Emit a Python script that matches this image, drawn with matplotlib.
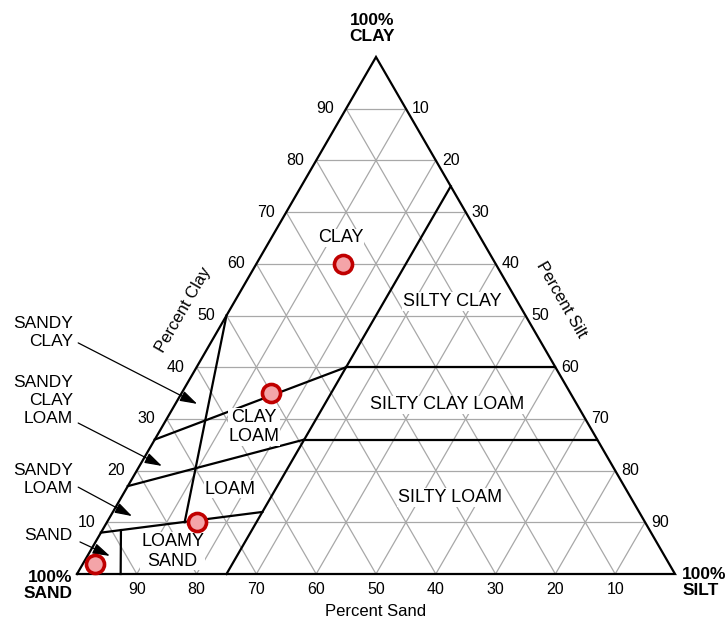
import numpy as np
import matplotlib.pyplot as plt

plt.rcParams['font.family'] = ['Liberation Sans', 'DejaVu Sans']

# class boundaries, each segment given as (clay %, silt %) end points
silt_25 = [(0, 25), (75, 25)]
clay_40 = [(40, 25), (40, 60)]
clay_26 = [(26, 25), (26, 74)]
sandy_clay_edge = [(26, 0), (40, 25)]
sandy_clay_loam_edge = [(17, 0), (26, 25)]
loamy_sand_edge = [(8, 0), (12, 25)]
loam_edge = [(50, 0), (10, 13)]
sand_edge = [(8.5, 3.1), (0, 7.3)]
boundaries = [silt_25, clay_40, clay_26, sandy_clay_edge,
              sandy_clay_loam_edge, loamy_sand_edge, loam_edge, sand_edge]

# sample points
sample_clay = [60, 35, 10, 2]
sample_silt = [14.5, 15, 15, 2]

ticks = [10, 20, 30, 40, 50, 60, 70, 80, 90]

# class names and where they sit (x along base, clay %)
class_names = ['CLAY', 'SILTY CLAY', 'SILTY CLAY LOAM', 'SILTY LOAM',
               'CLAY\nLOAM', 'LOAM', 'LOAMY\nSAND']
class_pos = [(44.1, 65.0), (62.7, 52.7), (61.9, 32.7), (62.4, 14.8),
             (29.6, 28.4), (25.6, 16.4), (16.0, 4.4)]

# side labels with arrows: text position, arrow start, arrow tip
side_names = ['SANDY\nCLAY', 'SANDY\nCLAY\nLOAM', 'SANDY\nLOAM', 'SAND']
side_text = [(-0.7, 46.8), (-0.7, 33.6), (-0.7, 18.3), (-0.7, 7.5)]
side_start = [(0.2, 44.7), (0.2, 29.2), (0.2, 16.8), (0.5, 6.2)]
side_tip = [(20.1, 32.9), (14.2, 20.9), (9.2, 11.2), (5.5, 3.5)]


def xy(clay, silt):
    return silt + clay / 2.0, clay


fig = plt.figure(figsize=(7.27, 6.22), dpi=100)
ax = fig.add_axes([0, 0, 1, 1])
ax.set_xlim(-77 / 5.98, 650 / 5.98)
ax.set_ylim(-48 / 5.17, 574 / 5.17)
ax.axis('off')

grid = dict(color='#a8a8a8', lw=0.9, zorder=1)
for k in ticks:
    # constant clay
    ax.plot([k / 2, 100 - k / 2], [k, k], **grid)
    # constant silt
    x0, y0 = xy(0, k)
    x1, y1 = xy(100 - k, k)
    ax.plot([x0, x1], [y0, y1], **grid)
    # constant sand
    x0, y0 = xy(0, 100 - k)
    x1, y1 = xy(100 - k, 0)
    ax.plot([x0, x1], [y0, y1], **grid)

# outer triangle
ax.plot([0, 100, 50, 0], [0, 0, 100, 0], color='black', lw=1.6,
        solid_joinstyle='miter', zorder=3)

for seg in boundaries:
    (c0, s0), (c1, s1) = seg
    x0, y0 = xy(c0, s0)
    x1, y1 = xy(c1, s1)
    ax.plot([x0, x1], [y0, y1], color='black', lw=1.6, zorder=3)

sx, sy = xy(np.array(sample_clay), np.array(sample_silt))
ax.plot(sx, sy, 'o', ms=13, mfc='#f4a4a8', mec='#c00000', mew=2.6,
        zorder=5)

# tick labels
for k in ticks:
    ax.annotate(str(k), (k / 2, k), xytext=(-8.5, 0),
                textcoords='offset points', ha='right', va='center',
                fontsize=11.5)
    ax.annotate(str(k), (100 - (100 - k) / 2, 100 - k), xytext=(4.5, 0),
                textcoords='offset points', ha='left', va='center',
                fontsize=11.5)
    ax.annotate(str(k), (100 - k, 0), xytext=(0, -11),
                textcoords='offset points', ha='center', va='center',
                fontsize=11.5)

box = dict(facecolor='white', edgecolor='none', pad=0.5)
for name, (px, py) in zip(class_names, class_pos):
    ax.text(px, py, name, ha='center', va='center', fontsize=13,
            linespacing=1.2, bbox=box, zorder=4)

for name, tpos, start, tip in zip(side_names, side_text, side_start, side_tip):
    ax.text(tpos[0], tpos[1], name, ha='right', va='center', fontsize=12.5,
            linespacing=1.25)
    ax.annotate('', xy=tip, xytext=start,
                arrowprops=dict(arrowstyle='-|>,head_length=0.7,head_width=0.22',
                                color='black', lw=0.9,
                                mutation_scale=15, shrinkA=0, shrinkB=0))

ax.text(-0.8, -2.2, '100%\nSAND', ha='right', va='center', fontsize=12.5,
        fontweight='bold', linespacing=1.1)
ax.text(49.3, 105.5, '100%\nCLAY', ha='center', va='center', fontsize=12.5,
        fontweight='bold', linespacing=1.1)
ax.text(101.2, -1.7, '100%\nSILT', ha='left', va='center', fontsize=12.5,
        fontweight='bold', linespacing=1.1)

ax.text(17.8, 51.1, 'Percent Clay', rotation=60, ha='center', va='center',
        fontsize=12, rotation_mode='anchor')
ax.text(80.9, 53.0, 'Percent Silt', rotation=-60, ha='center', va='center',
        fontsize=12, rotation_mode='anchor')
ax.text(50.0, -7.35, 'Percent Sand', ha='center', va='center', fontsize=12)

fig.savefig('out.png', dpi=100)
